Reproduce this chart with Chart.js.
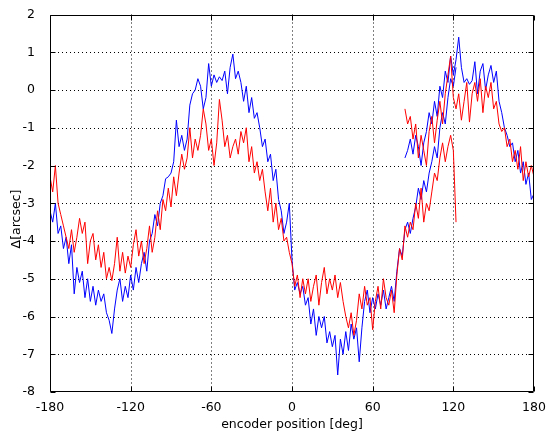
<!DOCTYPE html>
<html>
<head>
<meta charset="utf-8">
<script src="https://cdn.jsdelivr.net/npm/chart.js@4"></script>
<style>
  body { margin: 0; background: #fff; }
  canvas { display: block; }
</style>
</head>
<body>
<canvas id="encChart" width="546" height="438"></canvas>
<script>
// first pass: -180 deg up to 122 deg
const anglesA = [
  -180, -178, -176, -174, -172, -170, -168, -166, -164, -162,
  -160, -158, -156, -154, -152, -150, -148, -146, -144, -142,
  -140, -138, -136, -134, -132, -130, -128, -126, -124, -122,
  -120, -118, -116, -114, -112, -110, -108, -106, -104, -102,
  -100, -98, -96, -94, -92, -90, -88, -86, -84, -82,
  -80, -78, -76, -74, -72, -70, -68, -66, -64, -62,
  -60, -58, -56, -54, -52, -50, -48, -46, -44, -42,
  -40, -38, -36, -34, -32, -30, -28, -26, -24, -22,
  -20, -18, -16, -14, -12, -10, -8, -6, -4, -2,
  0, 2, 4, 6, 8, 10, 12, 14, 16, 18,
  20, 22, 24, 26, 28, 30, 32, 34, 36, 38,
  40, 42, 44, 46, 48, 50, 52, 54, 56, 58,
  60, 62, 64, 66, 68, 70, 72, 74, 76, 78,
  80, 82, 84, 86, 88, 90, 92, 94, 96, 98,
  100, 102, 104, 106, 108, 110, 112, 114, 116, 118,
  120, 122
];
// second pass after the wrap: 84 deg up to 180 deg
const anglesB = [
  84, 86, 88, 90, 92, 94, 96, 98, 100, 102,
  104, 106, 108, 110, 112, 114, 116, 118, 120, 122,
  124, 126, 128, 130, 132, 134, 136, 138, 140, 142,
  144, 146, 148, 150, 152, 154, 156, 158, 160, 162,
  164, 166, 168, 170, 172, 174, 176, 178, 180
];

const blueA = [
  -3.2, -3.5, -3.0, -3.8, -3.6, -4.2, -3.9, -4.6, -4.1, -5.4,
  -4.7, -5.1, -4.8, -5.5, -5.0, -5.6, -5.2, -5.7, -5.3, -5.6,
  -5.4, -5.9, -6.1, -6.45, -5.8, -5.3, -5.0, -5.6, -5.2, -5.5,
  -4.9, -5.3, -4.7, -5.1, -4.6, -4.3, -4.8, -4.0, -3.8, -3.3,
  -3.6, -3.0, -2.8, -2.35, -2.3, -2.2, -1.9, -0.8, -1.5, -1.2,
  -1.6, -1.3, -0.4, -0.1, 0.0, 0.3, 0.1, -0.5, -0.2, 0.7,
  0.1, 0.4, 0.2, 0.35, 0.25, 0.5, -0.1, 0.6, 0.95, 0.3,
  0.5, 0.2, -0.3, 0.1, -0.6, -0.2, -0.75, -0.6, -1.0, -1.5,
  -1.3, -1.9, -1.7, -2.4, -2.1, -2.9, -3.2, -3.8, -3.5, -3.0,
  -4.5, -5.3, -5.1, -5.4, -5.2, -5.7, -5.5, -6.2, -5.8, -6.5,
  -6.0, -6.3, -6.0, -6.7, -6.4, -6.8, -6.5, -7.55, -6.6, -7.0,
  -6.4, -6.9, -6.2, -6.6, -6.3, -7.2, -6.3, -5.6, -5.3, -5.9,
  -5.5, -5.8, -5.4, -5.7, -5.3, -5.8, -5.5, -5.2, -5.6, -4.8,
  -4.2, -4.4, -3.7, -3.5, -3.8, -3.4, -3.1, -2.6, -2.9, -2.4,
  -2.7, -2.2, -1.9, -1.5, -1.8, -1.0, -0.6, -0.9, -0.2, 0.3,
  0.1, 0.6
];
const blueB = [
  -1.8, -1.6, -1.3, -1.7, -1.2, -1.5, -2.0, -1.4, -1.1, -0.6,
  -0.9, -0.3, -0.7, 0.1, -0.2, 0.5, 0.2, 0.9, 0.4, 0.8,
  1.4, 0.6, 0.2, 0.3, 0.15, 0.25, 0.75, -0.1, 0.5, 0.7,
  0.0, 0.4, 0.65, 0.2, 0.5, -0.3, -0.6, -1.0, -1.2, -1.5,
  -1.4, -1.9, -1.6, -2.2, -1.9, -2.5, -2.2, -2.9, -2.75
];

const redA = [
  -2.3, -2.7, -2.0, -3.0, -3.3, -3.6, -3.9, -4.2, -3.7, -4.3,
  -3.9, -3.4, -3.8, -3.5, -4.6, -4.0, -3.8, -4.5, -4.1, -4.7,
  -4.3, -5.0, -4.7, -5.05, -4.6, -3.9, -4.8, -4.3, -4.85, -4.4,
  -4.7, -4.1, -3.7, -4.4, -4.0, -4.6, -4.2, -3.6, -4.3, -3.9,
  -3.2, -3.7, -2.9, -3.2, -2.6, -3.1, -2.3, -2.8, -2.2, -1.7,
  -2.1, -1.8, -1.0, -1.8, -1.3, -1.6, -1.2, -0.5, -0.9, -1.6,
  -1.3, -2.0, -1.4, -0.25, -0.8, -1.5, -1.2, -1.8, -1.5, -1.3,
  -1.7, -1.1, -1.4, -1.0, -1.9, -1.5, -2.2, -1.9, -2.4, -2.1,
  -2.7, -3.2, -2.6, -3.5, -3.0, -3.7, -3.4, -4.0, -3.9, -4.3,
  -4.6, -5.2, -4.9, -5.5, -5.0, -5.4, -5.0, -5.6, -5.2, -4.9,
  -5.7, -5.1, -4.7, -5.4, -5.0, -5.3, -4.9, -5.5, -5.1, -5.6,
  -6.0, -6.3, -5.9, -6.5, -6.1, -5.4, -5.8, -5.2, -5.7, -5.5,
  -6.35, -5.6, -5.2, -5.8, -5.0, -5.5, -5.7, -5.3, -5.9, -4.9,
  -4.2, -4.5, -3.6, -3.9, -3.5, -3.7, -3.0, -3.4, -2.6, -3.5,
  -3.0, -3.2, -2.7, -2.2, -2.4, -1.8, -1.4, -1.9, -1.5, -1.2,
  -1.6, -3.5
];
const redB = [
  -0.5, -0.9, -0.7, -1.3, -0.9, -1.8, -1.2, -1.6, -2.0, -1.1,
  -0.7, -1.4, -0.8, -0.3, -0.9, -0.1, 0.4, 0.9, -0.2, -0.5,
  -0.1, -0.8, -0.3, 0.2, -0.85, -0.1, 0.2, -0.3, 0.3, -0.6,
  0.1, -0.2, 0.2, -0.5, -0.3, -0.9, -1.1, -1.0, -1.5, -1.3,
  -1.9, -1.6, -2.1, -1.5, -2.4, -1.9, -2.3, -2.0, -2.3
];

const xTitle = 'encoder position [deg]';
const yTitle = 'Δ[arcsec]';

const axisFont = { family: 'DejaVu Sans', size: 12.5 };

function pts(xs, ys) {
    return xs.map((x, i) => ({ x: x, y: ys[i] }));
}

function trace(xs, ys, color) {
    return {
        data: pts(xs, ys),
        borderColor: color,
        borderWidth: 1,
        pointRadius: 0,
        tension: 0,
        fill: false
    };
}

// dotted grid under the data, box and inward ticks on top (matlab look)
const matlabAxes = {
    id: 'matlabAxes',
    beforeDatasetsDraw(chart) {
        const { ctx, chartArea: a, scales: { x, y } } = chart;
        ctx.save();
        ctx.strokeStyle = '#000';
        ctx.lineWidth = 1;
        ctx.setLineDash([1, 3]);
        ctx.beginPath();
        x.ticks.forEach(t => {
            if (t.value <= x.min || t.value >= x.max) return;
            const px = Math.round(x.getPixelForValue(t.value)) + 0.5;
            ctx.moveTo(px, a.top);
            ctx.lineTo(px, a.bottom);
        });
        y.ticks.forEach(t => {
            if (t.value <= y.min || t.value >= y.max) return;
            const py = Math.round(y.getPixelForValue(t.value)) + 0.5;
            ctx.moveTo(a.left, py);
            ctx.lineTo(a.right, py);
        });
        ctx.stroke();
        ctx.restore();
    },
    afterDatasetsDraw(chart) {
        const { ctx, chartArea: a, scales: { x, y } } = chart;
        const len = 5;
        const l = Math.round(a.left) + 0.5, r = Math.round(a.right) - 0.5;
        const t = Math.round(a.top) + 0.5, b = Math.round(a.bottom) - 0.5;
        ctx.save();
        ctx.strokeStyle = '#000';
        ctx.lineWidth = 1;
        ctx.beginPath();
        ctx.rect(l, t, r - l, b - t);
        x.ticks.forEach(tk => {
            const px = Math.round(x.getPixelForValue(tk.value)) + 0.5;
            ctx.moveTo(px, b); ctx.lineTo(px, b - len);
            ctx.moveTo(px, t); ctx.lineTo(px, t + len);
        });
        y.ticks.forEach(tk => {
            const py = Math.round(y.getPixelForValue(tk.value)) + 0.5;
            ctx.moveTo(l, py); ctx.lineTo(l + len, py);
            ctx.moveTo(r, py); ctx.lineTo(r - len, py);
        });
        ctx.stroke();

        // y label sits a bit below the axis middle in the original
        ctx.fillStyle = '#000';
        ctx.font = '12.5px "DejaVu Sans"';
        ctx.textAlign = 'center';
        ctx.textBaseline = 'middle';
        ctx.translate(17, 219);
        ctx.rotate(-Math.PI / 2);
        ctx.fillText(yTitle, 0, 0);
        ctx.restore();
    }
};

new Chart(document.getElementById('encChart').getContext('2d'), {
    type: 'line',
    data: {
        datasets: [
            trace(anglesA, redA, '#ff0000'),
            trace(anglesB, redB, '#ff0000'),
            trace(anglesA, blueA, '#0000ff'),
            trace(anglesB, blueB, '#0000ff')
        ]
    },
    options: {
        responsive: false,
        animation: false,
        devicePixelRatio: 1,
        layout: { padding: { top: 12, right: 12, left: 0, bottom: 0 } },
        plugins: {
            legend: { display: false },
            tooltip: { enabled: false }
        },
        scales: {
            x: {
                type: 'linear',
                min: -180,
                max: 180,
                grid: { display: false },
                border: { display: false },
                ticks: { stepSize: 60, font: axisFont, color: '#000', padding: 0, maxRotation: 0, autoSkip: false },
                title: { display: true, text: xTitle, font: axisFont, color: '#000', padding: { top: 0, bottom: 6 } },
                afterFit(s) { s.height = 46; }
            },
            y: {
                min: -8,
                max: 2,
                grid: { display: false },
                border: { display: false },
                ticks: { stepSize: 1, font: axisFont, color: '#000', padding: 7 },
                afterFit(s) { s.width = 50; }
            }
        }
    },
    plugins: [matlabAxes]
});
</script>
</body>
</html>
